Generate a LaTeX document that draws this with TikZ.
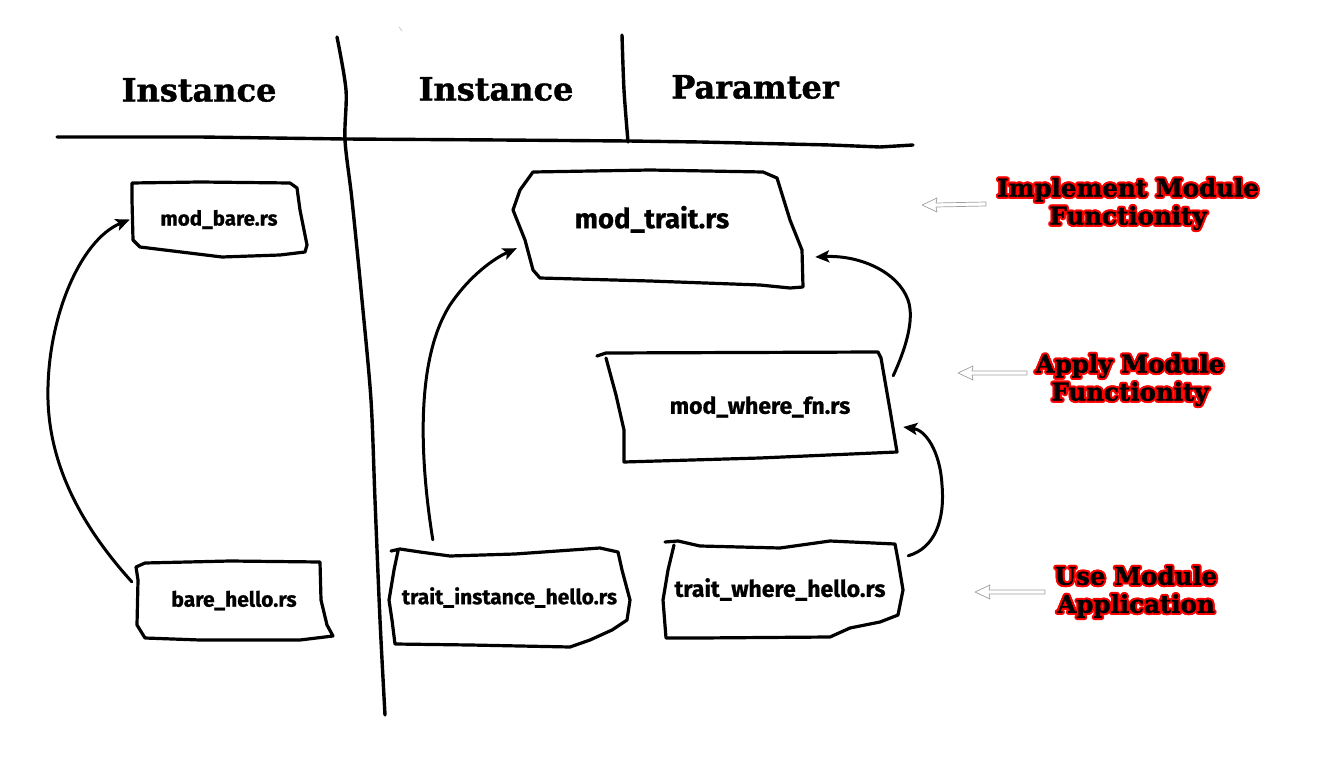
\documentclass[tikz,border=0pt]{standalone}
\usepackage{fontspec}
\setmainfont{DejaVu Serif}
\newfontfamily\hand{Fira Sans}[BoldFeatures={FakeBold=0.8}]
\newfontfamily\slab{DejaVu Serif}[BoldFeatures={FakeBold=1.2}]
\usetikzlibrary{arrows.meta}
\begin{document}
\begin{tikzpicture}[x=1pt,y=-1pt,
  stroke/.style={line width=3.4pt, line cap=round, line join=round},
  boxline/.style={line width=3.2pt, line cap=round, line join=round},
  conn/.style={line width=3pt, line cap=round, -{Stealth[length=14pt,width=12pt,inset=3pt]}},
  filebox/.style={draw=none, inner sep=0pt},
  hdr/.style={font=\slab\bfseries\fontsize{32}{36}\selectfont},
  lbl/.style={font=\slab\bfseries\fontsize{24.5}{28}\selectfont, align=center},
  hollow/.style={draw=gray!75, line width=0.7pt, line join=round, fill=white},
]
\useasboundingbox[fill=white] (0,0) rectangle (1341,759);

% header grid
\draw[stroke] (57,137) -- (200,137) -- (345,139) -- (500,140) -- (628,141) -- (700,142) -- (830,145) -- (880,147) -- (913,145);
\draw[stroke] plot[smooth] coordinates {(337,37) (346,90) (345,140) (352,200) (362,300) (371,400) (375,500) (380,620) (385,715)};
\draw[stroke] plot[smooth] coordinates {(622,35) (624,90) (628,142)};
\draw[gray!60, line width=0.5pt] (399,27) -- (402,31);

\node[hdr] (h1) at (199,90) {Instance};
\node[hdr] (h2) at (496,89) {Instance};
\node[hdr] (h3) at (755,87) {Paramter};

% file boxes (outlines)
\draw[boxline] (132,183) -- (200,182) -- (290,183) -- (297,188) -- (300,210) -- (307,245) -- (305,252) -- (280,255) -- (222,257) -- (140,247) -- (133,240) -- (132,200) -- cycle;
\draw[boxline] (136,567) -- (145,563) -- (230,561) -- (320,562) -- (321,600) -- (327,625) -- (333,636) -- (300,640) -- (200,640) -- (145,638) -- (137,625) -- (138,580) -- cycle;
\draw[boxline] (533,172) -- (650,170) -- (763,172) -- (777,178) -- (790,220) -- (802,250) -- (803,287) -- (790,288) -- (760,285) -- (650,281) -- (540,278) -- (533,270) -- (525,240) -- (513,210) -- (520,190) -- cycle;
\draw[boxline] (597,356) -- (606,353) -- (878,352) -- (881,358) -- (890,410) -- (897,452) -- (760,458) -- (624,462) -- (624,430) -- (616,395) -- (606,358);
\draw[boxline] (391,551) -- (400,549) -- (420,552) -- (450,556) -- (515,554) -- (600,548) -- (618,552) -- (622,570) -- (630,600) -- (627,620) -- (612,630) -- (590,640) -- (570,647) -- (470,645) -- (395,644) -- (392,620) -- (389,600) -- (394,570) -- (398,551);
\draw[boxline] (665,542) -- (678,541) -- (700,546) -- (780,548) -- (830,541) -- (895,544) -- (898,560) -- (903,590) -- (898,615) -- (880,622) -- (850,628) -- (830,637) -- (700,638) -- (666,638) -- (663,600) -- (668,570) -- (674,545);

% file nodes (sized to the outlines)
\node[filebox, minimum width=178pt, minimum height=75pt, font=\hand\bfseries\fontsize{20.5}{24}\selectfont] (modbare) at (219,219.5) {\raisebox{3pt}{mod\_bare.rs}};
\node[filebox, minimum width=198pt, minimum height=79pt, font=\hand\bfseries\fontsize{21}{24}\selectfont] (barehello) at (234,600.5) {\raisebox{-2pt}{bare\_hello.rs}};
\node[filebox, minimum width=290pt, minimum height=118pt, font=\hand\bfseries\fontsize{27.5}{30}\selectfont] (modtrait) at (658,229) {\raisebox{24pt}{mod\_trait.rs}\hspace*{12pt}};
\node[filebox, minimum width=300pt, minimum height=110pt, font=\hand\bfseries\fontsize{23}{26}\selectfont] (modwhere) at (747,407) {\hspace*{26pt}mod\_where\_fn.rs};
\node[filebox, minimum width=241pt, minimum height=99pt, font=\hand\bfseries\fontsize{21}{24}\selectfont] (traitinst) at (509.5,597.5) {trait\_instance\_hello.rs};
\node[filebox, minimum width=240pt, minimum height=97pt, font=\hand\bfseries\fontsize{23}{26}\selectfont] (traitwhere) at (783,589.5) {\raisebox{4pt}{trait\_where\_hello.rs}\hspace*{6pt}};

% connectors
\draw[conn] ([shift={(-3,21)}]barehello.north west) .. controls (85,530) and (50,470) .. (48,400)
   .. controls (46,320) and (80,240) .. (modbare.west);
\draw[conn] ([shift={(44,-8)}]traitinst.north west) .. controls (420,460) and (415,360) .. (450,305)
   .. controls (470,275) and (495,258) .. ([shift={(4,-40)}]modtrait.south west);
\draw[conn] ([shift={(5,15)}]traitwhere.north east) .. controls (935,548) and (945,520) .. (942,485)
   .. controls (940,450) and (925,430) .. ([shift={(6,20)}]modwhere.east);
\draw[conn] ([shift={(-4,24)}]modwhere.north east) .. controls (905,350) and (915,320) .. (908,300)
   .. controls (898,272) and (860,255) .. ([shift={(12,28)}]modtrait.east);

% red-outlined annotations
\foreach \a in {0,30,...,330} {
  \node[lbl, text=red, shift={(\a:2pt)}] at (1128,204) {Implement Module\\Functionity};
  \node[lbl, text=red, shift={(\a:2pt)}] at (1130,380) {Apply Module\\Functionity};
  \node[lbl, text=red, shift={(\a:2pt)}] at (1136,592) {Use Module\\Application};
}
\node[lbl] (impl) at (1128,204) {Implement Module\\Functionity};
\node[lbl] (apply) at (1130,380) {Apply Module\\Functionity};
\node[lbl] (use) at (1136,592) {Use Module\\Application};

% hollow arrows
\coordinate (t1) at (922,205);
\coordinate (t2) at (958,373);
\coordinate (t3) at (975,592);
\draw[hollow] (t1) -- ++(15,-7) -- ++(-1,5) -- ++(50,-1) -- ++(0,4) -- ++(-50,1) -- ++(1,5) -- cycle;
\draw[hollow] (t2) -- ++(15,-7) -- ++(-1,5) -- ++(55,0) -- ++(0,4) -- ++(-55,0) -- ++(1,5) -- cycle;
\draw[hollow] (t3) -- ++(15,-7) -- ++(-1,5) -- ++(56,0) -- ++(0,4) -- ++(-56,0) -- ++(1,5) -- cycle;
\end{tikzpicture}
\end{document}
